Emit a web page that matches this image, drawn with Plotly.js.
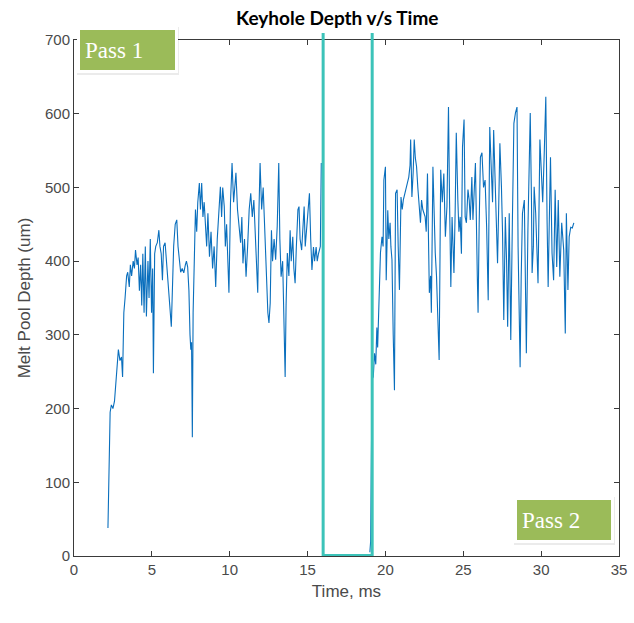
<!DOCTYPE html>
<html>
<head>
<meta charset="utf-8">
<script src="https://cdn.plot.ly/plotly-3.0.1.min.js"></script>
<style>
  html, body { margin: 0; padding: 0; background: #ffffff; }
  #chart { width: 634px; height: 623px; }
</style>
</head>
<body>
<div id="chart"></div>
<script>
// ---- Data ----
const pass1Time = [2.18,2.22,2.26,2.32,2.40,2.50,2.60,2.68,2.75,2.85,2.95,3.05,3.12,3.20,3.28,3.38,3.45,3.55,3.62,3.70,3.80,3.88,3.95,4.05,4.12,4.20,4.28,4.35,4.42,4.50,4.58,4.65,4.75,4.82,4.90,4.98,5.05,5.10,5.18,5.25,5.35,5.45,5.52,5.60,5.68,5.75,5.85,5.95,6.05,6.15,6.25,6.32,6.40,6.50,6.60,6.68,6.75,6.85,6.95,7.05,7.15,7.22,7.30,7.38,7.45,7.50,7.55,7.60,7.65,7.72,7.80,7.88,7.95,8.05,8.12,8.20,8.28,8.36,8.44,8.52,8.60,8.70,8.80,8.90,9.00,9.10,9.20,9.30,9.40,9.48,9.55,9.65,9.72,9.80,9.90,9.95,10.05,10.15,10.25,10.32,10.40,10.50,10.60,10.70,10.78,10.85,10.95,11.05,11.15,11.25,11.35,11.45,11.55,11.65,11.72,11.80,11.88,11.95,12.05,12.15,12.22,12.30,12.38,12.45,12.52,12.60,12.68,12.75,12.85,12.95,13.05,13.15,13.22,13.30,13.40,13.48,13.56,13.62,13.70,13.80,13.88,13.95,14.05,14.12,14.20,14.28,14.38,14.45,14.52,14.62,14.70,14.78,14.85,14.95,15.05,15.12,15.20,15.28,15.38,15.45,15.55,15.62,15.70,15.78,15.82,15.88];
const pass1Depth = [38,85,146,195,205,200,210,235,258,280,265,270,243,330,350,380,385,365,395,380,400,390,415,395,405,360,395,340,410,330,420,325,400,350,430,330,390,248,410,420,425,442,420,410,374,420,425,400,370,340,311,360,420,450,456,420,400,385,390,384,395,400,392,360,300,280,290,161,330,425,470,440,480,506,470,506,460,480,440,420,465,406,440,390,420,365,430,470,501,460,500,474,420,450,380,357,480,533,480,500,520,470,450,425,460,397,430,379,420,470,492,460,483,430,400,357,470,533,470,500,460,411,380,330,316,343,442,400,430,402,447,533,430,379,400,300,243,340,411,380,442,400,433,390,370,420,470,474,430,415,440,474,420,450,480,492,430,388,419,400,419,400,410,415,420,533];

const pass2Time = [19.00,19.05,19.10,19.15,19.22,19.30,19.38,19.45,19.50,19.58,19.68,19.78,19.85,19.90,20.00,20.05,20.15,20.22,20.30,20.35,20.42,20.50,20.58,20.65,20.75,20.82,20.90,21.00,21.08,21.15,21.22,21.30,21.40,21.50,21.58,21.62,21.70,21.78,21.85,21.92,22.00,22.08,22.15,22.25,22.32,22.40,22.55,22.62,22.70,22.78,22.82,22.90,22.95,23.05,23.12,23.20,23.28,23.35,23.45,23.55,23.65,23.75,23.85,23.95,24.05,24.12,24.15,24.20,24.28,24.40,24.48,24.55,24.65,24.72,24.80,24.88,24.95,25.05,25.12,25.20,25.30,25.38,25.45,25.55,25.62,25.70,25.78,25.90,25.95,26.02,26.10,26.20,26.30,26.40,26.50,26.60,26.70,26.80,26.88,26.95,27.05,27.12,27.20,27.28,27.35,27.45,27.52,27.60,27.70,27.78,27.85,27.95,28.05,28.15,28.25,28.35,28.45,28.52,28.58,28.65,28.72,28.80,28.92,29.00,29.05,29.15,29.22,29.30,29.38,29.42,29.50,29.55,29.65,29.75,29.80,29.92,30.00,30.10,30.20,30.30,30.38,30.45,30.52,30.60,30.70,30.80,30.90,31.00,31.10,31.20,31.32,31.45,31.55,31.62,31.72,31.80,31.90,32.00,32.10];
const pass2Depth = [5,20,140,240,243,275,260,310,283,351,411,433,420,510,528,374,469,430,452,420,402,300,225,492,497,420,361,487,470,483,490,499,505,514,530,565,487,520,565,540,528,500,483,452,483,470,460,440,519,430,357,380,330,528,470,411,380,338,266,524,480,519,433,474,609,480,402,365,460,384,470,574,483,440,460,410,555,592,460,452,497,483,456,514,456,501,533,380,330,450,541,547,500,510,446,347,582,524,480,578,500,433,397,480,560,501,440,320,460,400,311,465,293,450,587,601,609,419,330,256,380,465,483,380,275,442,520,601,480,384,420,501,465,400,370,565,514,480,547,623,456,365,450,541,411,374,497,392,483,379,452,415,302,465,361,433,446,445,452];

// Time limits of the gap between the two passes (cyan markers)
const gapTimes = [16.0, 19.15];
const passLabels = ["Pass 1", "Pass 2"];
const xTicks = [0, 5, 10, 15, 20, 25, 30, 35];
const yTicks = [0, 100, 200, 300, 400, 500, 600, 700];

// ---- Traces ----
const lineStyle = { color: '#0a6fbd', width: 1.1 };
const traces = [
  { x: pass1Time, y: pass1Depth, type: 'scatter', mode: 'lines', line: lineStyle, showlegend: false, hoverinfo: 'skip' },
  { x: pass2Time, y: pass2Depth, type: 'scatter', mode: 'lines', line: lineStyle, showlegend: false, hoverinfo: 'skip' }
];

// ---- Layout helpers ----
const cyan = '#3cc3b9';
const W = 634, H = 623;
const M = { l: 74, r: 15, t: 40, b: 67 };
const pw = W - M.l - M.r, ph = H - M.t - M.b;
const px = v => (v - M.l) / pw;          // page pixel -> paper x
const py = v => (H - M.b - v) / ph;      // page pixel -> paper y

function labelBox(x0, y0, x1, y1) {
  return [
    { type: 'rect', xref: 'paper', yref: 'paper', layer: 'above',
      x0: px(x0 - 3), x1: px(x1 + 4), y0: py(y1 + 5), y1: py(y0 - 3),
      fillcolor: 'rgba(0,0,0,0.08)', line: { width: 0 } },
    { type: 'rect', xref: 'paper', yref: 'paper', layer: 'above',
      x0: px(x0 - 3), x1: px(x1 + 3), y0: py(y1 + 3), y1: py(y0 - 3),
      fillcolor: '#ffffff', line: { width: 0 } },
    { type: 'rect', xref: 'paper', yref: 'paper', layer: 'above',
      x0: px(x0), x1: px(x1), y0: py(y1), y1: py(y0),
      fillcolor: '#9bbb59', line: { width: 0 } }
  ];
}

const shapes = [
  // gap markers
  { type: 'line', xref: 'x', yref: 'paper', x0: gapTimes[0], x1: gapTimes[1], y0: py(555), y1: py(555),
    line: { color: cyan, width: 2 }, layer: 'above' },
  { type: 'line', xref: 'x', yref: 'paper', x0: gapTimes[0], x1: gapTimes[0], y0: 0, y1: py(33),
    line: { color: cyan, width: 3 }, layer: 'above' },
  { type: 'line', xref: 'x', yref: 'paper', x0: gapTimes[1], x1: gapTimes[1], y0: 0, y1: py(33),
    line: { color: cyan, width: 3 }, layer: 'above' },
  ...labelBox(80, 30, 175, 70),
  ...labelBox(517, 500, 611, 540)
];

const labelFont = { family: 'Liberation Serif, Times New Roman, serif', size: 23, color: '#ffffff' };
const annotations = [
  { text: passLabels[0], xref: 'paper', yref: 'paper', x: px(83), y: py(50),
    xanchor: 'left', yanchor: 'middle', showarrow: false, font: labelFont },
  { text: passLabels[1], xref: 'paper', yref: 'paper', x: px(520), y: py(520),
    xanchor: 'left', yanchor: 'middle', showarrow: false, font: labelFont }
];

const axisCommon = {
  showline: true, linecolor: '#3a3a3a', linewidth: 1, mirror: 'ticks',
  ticks: 'inside', ticklen: 5, tickcolor: '#3a3a3a', tickwidth: 1,
  showgrid: false, zeroline: false, fixedrange: true,
  tickfont: { family: 'Liberation Sans, Arial, sans-serif', size: 15, color: '#4a4a4a' }
};

const layout = {
  width: W, height: H,
  margin: M,
  paper_bgcolor: '#ffffff', plot_bgcolor: '#ffffff',
  title: { text: '<b>Keyhole Depth v/s Time</b>', x: 0.532, xanchor: 'center', y: 1 - 18 / H, yanchor: 'middle',
           font: { family: 'Lato, Open Sans, sans-serif', size: 19, color: '#000000' } },
  xaxis: Object.assign({}, axisCommon, {
    range: [0, 35], tickvals: xTicks, ticktext: xTicks.map(String),
    title: { text: 'Time, ms', standoff: 8, font: { family: 'Liberation Sans, Arial, sans-serif', size: 17, color: '#4a4a4a' } }
  }),
  yaxis: Object.assign({}, axisCommon, {
    range: [0, 700], tickvals: yTicks, ticktext: yTicks.map(String),
    title: { text: 'Melt Pool Depth (um)', standoff: 10, font: { family: 'Liberation Sans, Arial, sans-serif', size: 17, color: '#4a4a4a' } }
  }),
  shapes: shapes,
  annotations: annotations
};

Plotly.newPlot('chart', traces, layout, { displayModeBar: false, staticPlot: true });
</script>
</body>
</html>
